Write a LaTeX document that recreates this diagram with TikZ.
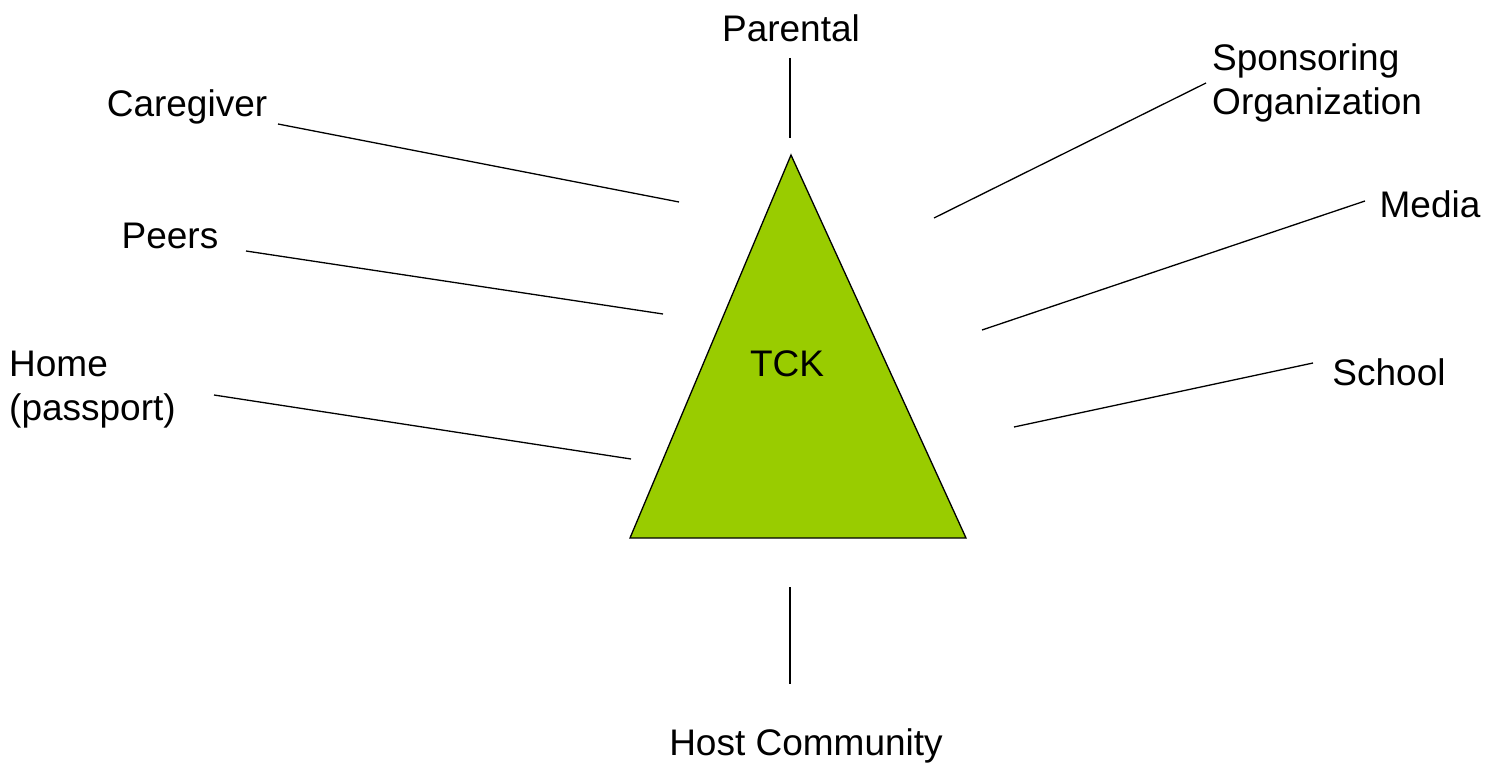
\documentclass[tikz,border=0pt]{standalone}
\usepackage{fontspec}
\setmainfont{Liberation Sans}
\definecolor{tckgreen}{HTML}{99CC00}
\begin{document}
\begin{tikzpicture}[x=1pt,y=-1pt,
  lbl/.style={font=\fontsize{37}{44}\selectfont, inner sep=0pt, align=left},
  conn/.style={draw=black, line width=1.3pt}]
\useasboundingbox (0,0) rectangle (1499,767);
% triangle
\coordinate (apex) at (791,155);
\coordinate (bl) at (630,538);
\coordinate (br) at (966,538);
\filldraw[fill=tckgreen, draw=black, line width=1.3pt] (apex) -- (bl) -- (br) -- cycle;
\node[lbl] (tck) at (787,364) {TCK};
% labels
\node[lbl] (parental) at (791,28) {Parental};
\node[lbl] (caregiver) at (187,107) {Caregiver};
\node[lbl, anchor=west] (sponsor) at (1212,83) {Sponsoring\\Organization};
\node[lbl] (peers) at (170,236) {Peers};
\node[lbl] (media) at (1430,204) {Media};
\node[lbl, anchor=west] (home) at (9,390) {Home\\(passport)};
\node[lbl] (school) at (1389,372) {School};
\node[lbl] (host) at (806,746) {Host Community};
% connector ends
\coordinate (pa1) at (790,58);   \coordinate (pa2) at (790,138);
\coordinate (ca1) at (278,124);  \coordinate (ca2) at (679,202);
\coordinate (sp1) at (1206,83);  \coordinate (sp2) at (934,218);
\coordinate (pe1) at (246,251);  \coordinate (pe2) at (663,314);
\coordinate (me1) at (1365,201); \coordinate (me2) at (982,330);
\coordinate (ho1) at (214,395);  \coordinate (ho2) at (631,459);
\coordinate (sc1) at (1313,363); \coordinate (sc2) at (1014,427);
\coordinate (hc1) at (790,587);  \coordinate (hc2) at (790,684);
\foreach \a/\b in {pa1/pa2,ca1/ca2,sp1/sp2,pe1/pe2,me1/me2,ho1/ho2,sc1/sc2,hc1/hc2}
  \draw[conn] (\a) -- (\b);
\end{tikzpicture}
\end{document}
